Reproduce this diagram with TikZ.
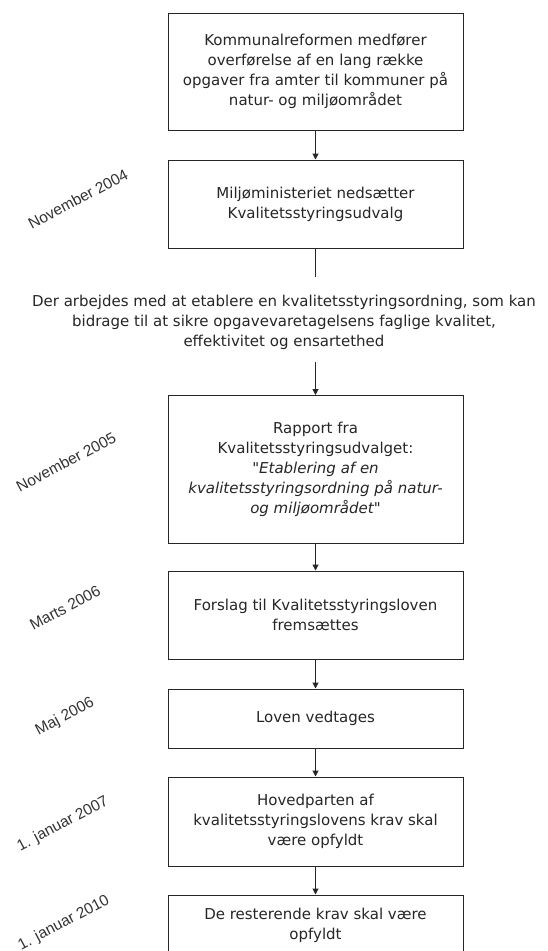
\documentclass[tikz,border=0pt]{standalone}
\usepackage{fontspec}
\newfontfamily\boxfont{DejaVu Sans}
\newfontfamily\datefont{Liberation Sans}
\usetikzlibrary{arrows.meta}
\begin{document}
\begin{tikzpicture}[x=1pt,y=-1pt,
  stepbox/.style={draw=black!85,line width=1pt,align=center,inner sep=0pt,
    font=\boxfont\fontsize{15}{20}\selectfont},
  datelabel/.style={rotate=28,font=\datefont\fontsize{15.5}{17}\selectfont,text=black!80,inner sep=0pt},
  conn/.style={draw=black!85,line width=1pt},
  arr/.style={conn,-{Triangle[length=6pt,width=6pt]}},
  every node/.style={text=black!85}]
\useasboundingbox (0,0) rectangle (548,951);
\fill[white] (0,0) rectangle (548,951);

% boxes (left 168, right 463)
\node[stepbox,minimum width=295pt,minimum height=117pt] (b1) at (315.5,71.5)
  {Kommunalreformen medfører\\overførelse af en lang række\\opgaver fra amter til kommuner på\\natur- og miljøområdet};
\node[stepbox,minimum width=295pt,minimum height=88pt] (b2) at (315.5,204)
  {Miljøministeriet nedsætter\\Kvalitetsstyringsudvalg};
\node[align=center,inner sep=0pt,font=\boxfont\fontsize{15}{20}\selectfont] (t) at (284,322)
  {Der arbejdes med at etablere en kvalitetsstyringsordning, som kan\\bidrage til at sikre opgavevaretagelsens faglige kvalitet,\\effektivitet og ensartethed};
\node[stepbox,minimum width=295pt,minimum height=148pt] (b3) at (315.5,469.5)
  {Rapport fra\\Kvalitetsstyringsudvalget:\\"\textit{Etablering af en}\\\textit{kvalitetsstyringsordning på natur-}\\\textit{og miljøområdet"}};
\node[stepbox,minimum width=295pt,minimum height=88pt] (b4) at (315.5,615)
  {Forslag til Kvalitetsstyringsloven\\fremsættes};
\node[stepbox,minimum width=295pt,minimum height=59pt] (b5) at (315.5,718.5)
  {Loven vedtages};
\node[stepbox,minimum width=295pt,minimum height=89pt] (b6) at (315.5,821.5)
  {Hovedparten af\\kvalitetsstyringslovens krav skal\\være opfyldt};
\node[stepbox,minimum width=295pt,minimum height=60pt] (b7) at (315.5,925)
  {De resterende krav skal være\\opfyldt};

% connectors
\coordinate (c1) at (315.5,277);
\coordinate (c2) at (315.5,362);
\draw[arr] (b1.south) -- (b2.north);
\draw[conn] (b2.south) -- (c1);
\draw[arr] (c2) -- (b3.north);
\draw[arr] (b3.south) -- (b4.north);
\draw[arr] (b4.south) -- (b5.north);
\draw[arr] (b5.south) -- (b6.north);
\draw[arr] (b6.south) -- (b7.north);

% dates
\node[datelabel] (d1) at (78,199) {November 2004};
\node[datelabel] (d2) at (66,462) {November 2005};
\node[datelabel] (d3) at (65,608) {Marts 2006};
\node[datelabel] (d4) at (65,717) {Maj 2006};
\node[datelabel] (d5) at (63,824) {1. januar 2007};
\node[datelabel] (d6) at (64,923) {1. januar 2010};
\end{tikzpicture}
\end{document}
